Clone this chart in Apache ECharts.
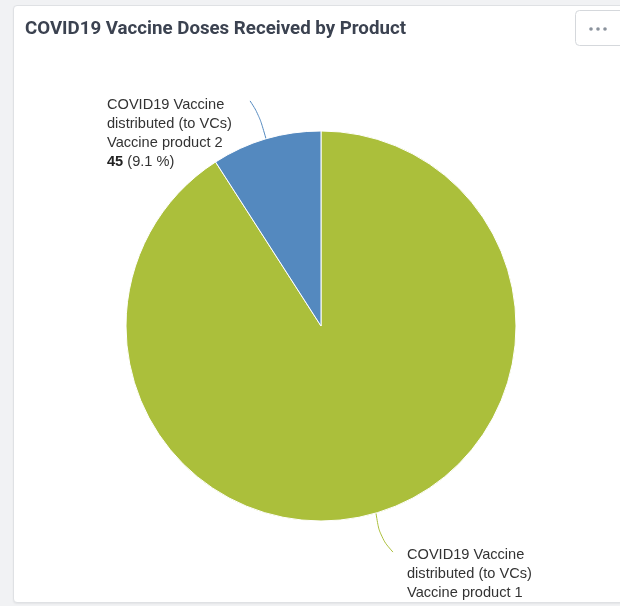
<!DOCTYPE html>
<html>
<head>
<meta charset="utf-8">
<script src="https://cdn.jsdelivr.net/npm/echarts@6/dist/echarts.min.js"></script>
<style>
html,body{margin:0;padding:0;background:#f1f2f4;width:620px;height:606px;overflow:hidden;}
#card{position:absolute;left:13px;top:5px;width:620px;height:596px;background:#fff;border:1px solid #dfe1e4;border-radius:4px;overflow:hidden;box-shadow:0 1px 2px rgba(0,0,0,0.06);}
#chart{position:absolute;left:0;top:0;width:620px;height:596px;}
</style>
</head>
<body>
<div id="card"><div id="chart"></div></div>
<script>
const titleText = 'COVID19 Vaccine Doses Received by Product';
const categories = ['Vaccine product 1', 'Vaccine product 2'];
const seriesPrefix = 'COVID19 Vaccine\ndistributed (to VCs)';
const values = [450, 45];
const colors = ['#abbf3b', '#5489bf'];

const total = values.reduce((a, b) => a + b, 0);
const chart = echarts.init(document.getElementById('chart'), null, {renderer: 'canvas'});

const labelPos = {
  'Vaccine product 2': {x: 93, y: 89, line: [[-7, -24], [-16, -38]]},
  'Vaccine product 1': {x: 393, y: 539, line: [[4, 24], [17, 39]]}
};
const FS = 14.6, LH = 19.2;

chart.setOption({
  animation: false,
  title: {
    text: titleText,
    left: 6, top: 9,
    textStyle: {fontFamily: 'Roboto', fontWeight: 'bold', fontSize: 18.7, color: '#3b4250'}
  },
  graphic: [
    {type: 'rect', shape: {x: 561.5, y: 4.5, width: 60, height: 35, r: 4},
     style: {fill: '#fff', stroke: '#d5d8dc', lineWidth: 1}},
    {type: 'circle', shape: {cx: 577, cy: 23, r: 1.8}, style: {fill: '#8a929c'}},
    {type: 'circle', shape: {cx: 584, cy: 23, r: 1.8}, style: {fill: '#8a929c'}},
    {type: 'circle', shape: {cx: 591, cy: 23, r: 1.8}, style: {fill: '#8a929c'}}
  ],
  series: [{
    type: 'pie',
    center: [307, 320],
    radius: [0, 195],
    startAngle: 90,
    clockwise: true,
    avoidLabelOverlap: false,
    itemStyle: {borderColor: '#fff', borderWidth: 1},
    label: {
      show: true,
      position: 'outside',
      fontFamily: 'Liberation Sans',
      fontSize: FS,
      color: '#333',
      lineHeight: LH,
      formatter: function (p) {
        const pct = (p.value / total * 100).toFixed(1);
        return '{n|COVID19 Vaccine}\n{n|distributed (to VCs)}\n{n|' + p.name + '}\n{b|' + p.value + '}{n| (' + pct + ' %)}';
      },
      rich: {
        n: {fontFamily: 'Liberation Sans', fontSize: FS, color: '#333', lineHeight: LH},
        b: {fontFamily: 'Liberation Sans', fontSize: FS, color: '#222', fontWeight: 'bold', lineHeight: LH}
      }
    },
    labelLine: {show: true, smooth: 0.4, length: 20, length2: 10, lineStyle: {width: 1}},
    labelLayout: function (params) {
      const name = categories[params.dataIndex];
      const lp = labelPos[name];
      const res = {x: lp.x, y: lp.y, align: 'left', verticalAlign: 'top'};
      if (params.labelLinePoints) {
        const s = params.labelLinePoints[0];
        res.labelLinePoints = [[s[0], s[1]], [s[0] + lp.line[0][0], s[1] + lp.line[0][1]], [s[0] + lp.line[1][0], s[1] + lp.line[1][1]]];
      }
      return res;
    },
    data: categories.map((c, i) => ({
      name: c, value: values[i],
      itemStyle: {color: colors[i]},
      labelLine: {lineStyle: {color: colors[i]}}
    }))
  }]
});
</script>
</body>
</html>
